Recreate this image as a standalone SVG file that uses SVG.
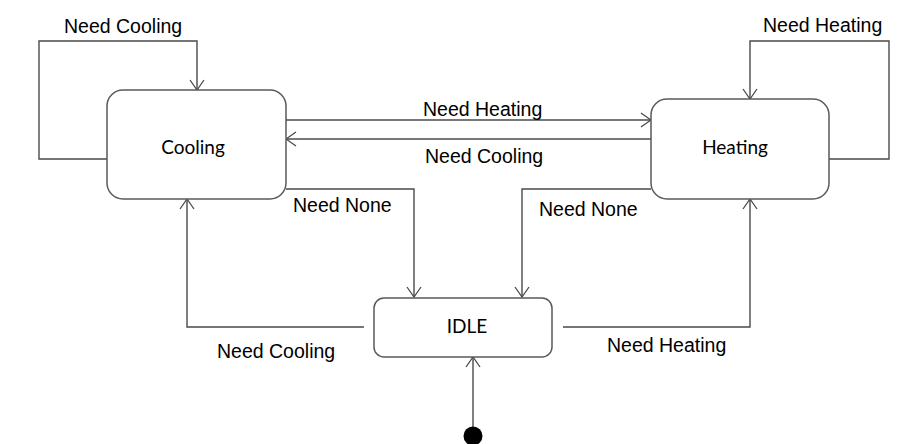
<svg xmlns="http://www.w3.org/2000/svg" width="900" height="444" viewBox="0 0 900 444">
  <style>
    .state { fill: #ffffff; stroke: #5a5a5a; stroke-width: 1.5; }
    .stateText { font-family: Lato, "Noto Sans", "Liberation Sans", sans-serif; font-size: 19px; fill: #000; text-anchor: middle; }
    .label { font-family: "Liberation Sans", Arial, sans-serif; font-size: 19.5px; fill: #000; }
    .edge { fill: none; stroke: #4a4a4a; stroke-width: 1.4; marker-end: url(#arrow); }
  </style>
  <defs>
    <marker id="arrow" markerUnits="userSpaceOnUse" viewBox="-1 -8 12 16" refX="10" refY="0" markerWidth="12" markerHeight="16" orient="auto">
      <path d="M0,-7 L10,0 L0,7" fill="none" stroke="#4a4a4a" stroke-width="1.3"/>
    </marker>
  </defs>
  <rect width="900" height="444" fill="#ffffff"/>

  <g id="connectors">
    <path class="edge" d="M107,159 H39 V41 H197 V90"/>
    <path class="edge" d="M829,159 H889 V41 H750 V99"/>
    <path class="edge" d="M286,120 H651"/>
    <path class="edge" d="M651,139 H286"/>
    <path class="edge" d="M286,189 H414 V297"/>
    <path class="edge" d="M651,189 H522 V297"/>
    <path class="edge" d="M364,327 H187 V199"/>
    <path class="edge" d="M563,327 H750 V199"/>
    <path class="edge" d="M473,435 V357"/>
  </g>

  <g id="labels">
    <text class="label" x="64" y="33">Need Cooling</text>
    <text class="label" x="763" y="32">Need Heating</text>
    <text class="label" x="423" y="116">Need Heating</text>
    <text class="label" x="425" y="163">Need Cooling</text>
    <text class="label" x="293" y="212">Need None</text>
    <text class="label" x="539" y="216">Need None</text>
    <text class="label" x="217" y="358">Need Cooling</text>
    <text class="label" x="607" y="352">Need Heating</text>
  </g>

  <g id="cooling">
    <rect class="state" x="107" y="90" width="179" height="109" rx="16" ry="16"/>
    <text class="stateText" x="193" y="154">Cooling</text>
  </g>
  <g id="heating">
    <rect class="state" x="651" y="99" width="178" height="100" rx="16" ry="16"/>
    <text class="stateText" x="735" y="154">Heating</text>
  </g>
  <g id="idle">
    <rect class="state" x="374" y="298" width="178" height="59" rx="10" ry="10"/>
    <text class="stateText" x="467" y="333">IDLE</text>
  </g>
  <g id="initial">
    <circle cx="473" cy="436" r="9.5" fill="#000"/>
  </g>
</svg>
